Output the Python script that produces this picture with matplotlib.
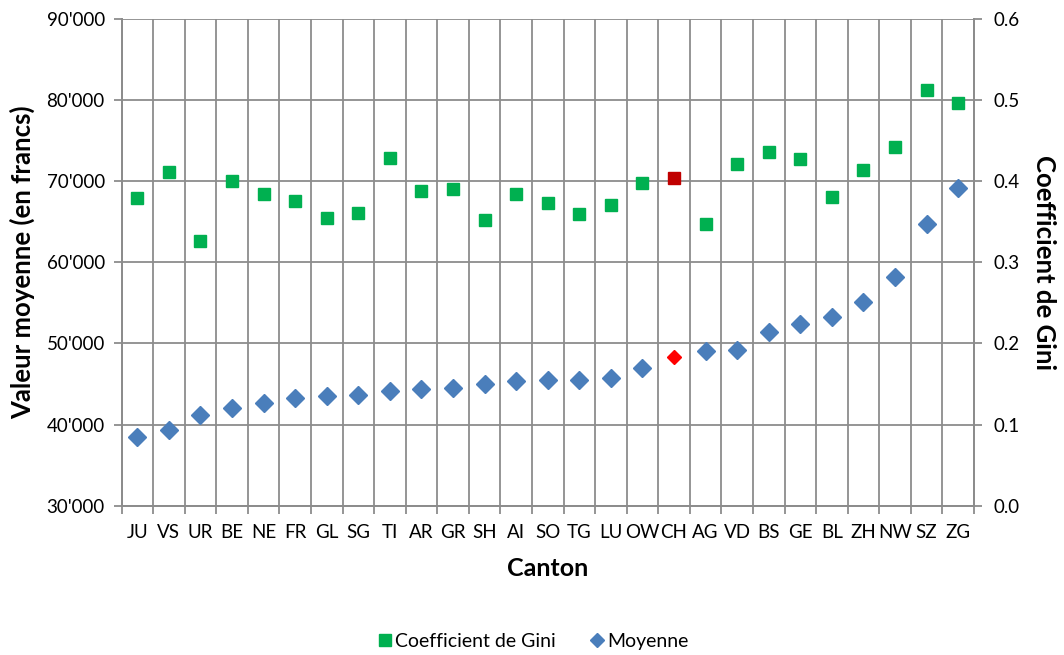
import matplotlib
matplotlib.use("Agg")
from matplotlib import pyplot as plt
from matplotlib.ticker import FuncFormatter, MultipleLocator
from matplotlib.lines import Line2D
import numpy as np

plt.rcParams['font.family'] = ['Lato', 'DejaVu Sans']

cantons = ['JU', 'VS', 'UR', 'BE', 'NE', 'FR', 'GL', 'SG', 'TI', 'AR', 'GR', 'SH', 'AI',
           'SO', 'TG', 'LU', 'OW', 'CH', 'AG', 'VD', 'BS', 'GE', 'BL', 'ZH', 'NW', 'SZ', 'ZG']
moyenne = [38500, 39290, 41130, 42000, 42650, 43260, 43510, 43600, 44160, 44370, 44500,
           44990, 45320, 45480, 45520, 45760, 47000, 48280, 49050, 49170, 51390, 52380,
           53240, 55120, 58250, 64780, 69210]
gini = [0.379, 0.411, 0.326, 0.400, 0.384, 0.376, 0.355, 0.361, 0.429, 0.388, 0.390,
        0.352, 0.384, 0.373, 0.360, 0.371, 0.398, 0.404, 0.347, 0.421, 0.436, 0.427,
        0.381, 0.414, 0.442, 0.512, 0.496]

green = '#00b050'
blue = '#4a7ebb'
grid_col = '#8c8c8c'

x = np.arange(len(cantons))
ch = cantons.index('CH')
rest = [i for i in x if i != ch]

fig = plt.figure(figsize=(10.64, 6.55), dpi=100)
ax = fig.add_axes([0.1142, 0.228, 0.8012, 0.743])
ax2 = ax.twinx()

# moyenne on the left axis
ax.plot(x[rest], np.array(moyenne)[rest], linestyle='none', marker='D', ms=9,
        color=blue, zorder=3)
ax.plot([ch], [moyenne[ch]], linestyle='none', marker='D', ms=7.5,
        color='#ff0000', zorder=3)

# gini on the right axis
ax2.plot(x[rest], np.array(gini)[rest], linestyle='none', marker='s', ms=8.6,
         color=green, zorder=3)
ax2.plot([ch], [gini[ch]], linestyle='none', marker='s', ms=8.6,
         color='#c00000', zorder=3)

ax.set_xlim(-0.5, len(cantons) - 0.5)
ax.set_ylim(30000, 90000)
ax2.set_ylim(0, 0.6)

ax.yaxis.set_major_locator(MultipleLocator(10000))
ax.yaxis.set_major_formatter(FuncFormatter(lambda v, p: f"{int(v)//1000}'000"))
ax2.yaxis.set_major_locator(MultipleLocator(0.1))
ax2.yaxis.set_major_formatter(FuncFormatter(lambda v, p: f"{v:.1f}"))

ax.set_xticks(x)
ax.set_xticklabels(cantons)
ax.set_xticks(np.arange(len(cantons) + 1) - 0.5, minor=True)
ax.tick_params(axis='x', which='major', length=0, pad=13, labelsize=13.5)
ax.tick_params(axis='x', which='minor', length=6, color=grid_col, width=1.3)
ax.tick_params(axis='y', length=6, color=grid_col, width=1.3, labelsize=13.5, pad=6)
ax2.tick_params(axis='y', length=6, color=grid_col, width=1.3, labelsize=13.5, pad=8)

ax.grid(True, axis='y', which='major', color=grid_col, linewidth=1.3)
ax.grid(True, axis='x', which='minor', color=grid_col, linewidth=1.3)
ax.set_axisbelow(True)

for a in (ax, ax2):
    for s in a.spines.values():
        s.set_color(grid_col)
        s.set_linewidth(1.3)
    a.spines['top'].set_visible(False)

ax.set_xlabel('Canton', fontsize=18, fontweight='bold', labelpad=12)
ax.set_ylabel('Valeur moyenne (en francs)', fontsize=18.5, fontweight='bold', labelpad=8)
ax2.set_ylabel('Coefficient de Gini', fontsize=18.5, fontweight='bold', rotation=-90,
               labelpad=26)

handles = [Line2D([], [], linestyle='none', marker='s', ms=8, color=green),
           Line2D([], [], linestyle='none', marker='D', ms=7, color=blue)]
fig.legend(handles, ['Coefficient de Gini', 'Moyenne'], loc='center',
           bbox_to_anchor=(0.5, 0.021), ncol=2, frameon=False, fontsize=14,
           handletextpad=0.05, columnspacing=1.6, handlelength=1.0)

fig.savefig('out.png', dpi=100)
